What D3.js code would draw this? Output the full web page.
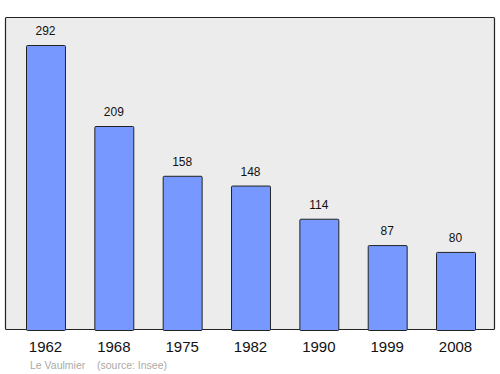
<!DOCTYPE html>
<html><head><meta charset="utf-8">
<script src="https://cdn.jsdelivr.net/npm/d3@7"></script>
<style>body{margin:0;background:#fff}svg{display:block}</style>
</head><body>
<script>
const years = ["1962","1968","1975","1982","1990","1999","2008"];
const population = [292,209,158,148,114,87,80];
const placeName = "Le Vaulmier";
const sourceText = "(source: Insee)";

const W = 500, H = 374;
const svg = d3.select("body").append("svg").attr("width", W).attr("height", H);

svg.append("rect").attr("x",5.5).attr("y",17.5).attr("width",489).attr("height",312)
  .attr("fill","#ececec").attr("stroke","#222").attr("stroke-width",1.2).attr("rx",1);

const x = d3.scaleBand().domain(years).range([26,475]).paddingInner(0.43).paddingOuter(0);
const y = d3.scaleLinear().domain([0,292]).range([330,45]);

svg.selectAll("rect.bar").data(years).enter().append("rect").attr("class","bar")
  .attr("x", d => x(d)+0.5).attr("y", (d,i) => y(population[i])+0.5)
  .attr("width", x.bandwidth()).attr("height", (d,i) => y(0)-y(population[i]))
  .attr("fill","#7799ff").attr("stroke","#222").attr("stroke-width",1).attr("rx",1);

svg.selectAll("text.val").data(years).enter().append("text").attr("class","val")
  .attr("x", d => x(d)+x.bandwidth()/2).attr("y", (d,i) => y(population[i])-10)
  .attr("text-anchor","middle").attr("font-family","Liberation Sans, Arial, sans-serif")
  .attr("font-size",12).attr("fill","#111").text((d,i) => population[i]);

const ax = svg.append("g").attr("transform","translate(0,330)")
  .call(d3.axisBottom(x).tickSize(0).tickPadding(0));
ax.select(".domain").remove();
ax.selectAll("text").attr("font-family","Liberation Sans, Arial, sans-serif")
  .attr("font-size",15).attr("fill","#111").attr("y",22).attr("dy",0);

svg.append("text").attr("x",30).attr("y",369).attr("font-family","Liberation Sans, Arial, sans-serif")
  .attr("font-size",10.5).attr("fill","#aaa").text(placeName);
svg.append("text").attr("x",97).attr("y",369).attr("font-family","Liberation Sans, Arial, sans-serif")
  .attr("font-size",10.5).attr("fill","#aaa").text(sourceText);
</script>
</body></html>
